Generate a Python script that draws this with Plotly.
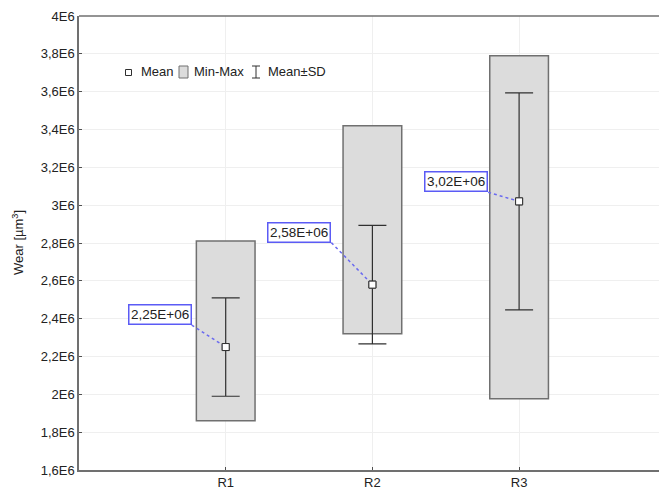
import plotly.graph_objects as go

categories = ["R1", "R2", "R3"]
means = [2.25e6, 2.58e6, 3.02e6]
sds = [0.26e6, 0.313e6, 0.574e6]
mins = [1.86e6, 2.32e6, 1.976e6]
maxs = [2.81e6, 3.42e6, 3.79e6]
ytick_vals = [1.6e6, 1.8e6, 2.0e6, 2.2e6, 2.4e6, 2.6e6, 2.8e6, 3.0e6, 3.2e6, 3.4e6, 3.6e6, 3.8e6, 4.0e6]
ytick_text = ["1,6E6", "1,8E6", "2E6", "2,2E6", "2,4E6", "2,6E6", "2,8E6", "3E6", "3,2E6", "3,4E6", "3,6E6", "3,8E6", "4E6"]

# label offsets (layout only): x in category units, y in data units
label_dx = [-0.232, -0.28, -0.211]
label_dy = [0.116e6, 0.222e6, 0.048e6]

W, H = 659, 495
L, T, B, R = 79, 16, 25, 0
pw, ph = W - L - R, H - T - B

def px(x):  # pixel -> paper x
    return (x - L) / pw

def py(y):  # pixel -> paper y
    return 1 - (y - T) / ph

xs = [1, 2, 3]
fig = go.Figure()
fig.add_trace(go.Bar(
    x=xs, y=[mx - mn for mn, mx in zip(mins, maxs)], base=mins, width=0.4,
    marker=dict(color="#dcdcdc", line=dict(color="#707070", width=1.5)),
    showlegend=False, hoverinfo="skip"))
fig.add_trace(go.Scatter(
    x=xs, y=means, mode="markers",
    marker=dict(symbol="square", size=7, color="white", line=dict(color="#303030", width=1)),
    error_y=dict(type="data", array=sds, color="#303030", thickness=1.2, width=14),
    showlegend=False))

anns = []
for i, (xv, m) in enumerate(zip(xs, means)):
    sx, sy = xv + label_dx[i], m + label_dy[i]
    fig.add_trace(go.Scatter(x=[sx, xv], y=[sy, m], mode="lines",
                             line=dict(color="#6a6af0", width=1.5, dash="dot"),
                             showlegend=False, hoverinfo="skip"))
    anns.append(dict(x=sx, y=sy, xref="x", yref="y", xanchor="right", yanchor="bottom",
                     text=f"{m:.2E}".replace(".", ","), showarrow=False,
                     font=dict(size=13.5, color="#222"), bgcolor="white",
                     bordercolor="#5b5bf5", borderwidth=1.5, borderpad=1.5))
fig.add_trace(go.Scatter(
    x=xs, y=means, mode="markers",
    marker=dict(symbol="square", size=7, color="white", line=dict(color="#303030", width=1)),
    showlegend=False, hoverinfo="skip"))

shapes = []
shapes.append(dict(type="line", xref="paper", yref="paper", x0=0, x1=1, y0=1, y1=1,
                   line=dict(color="#707070", width=1.5)))
# custom legend
shapes.append(dict(type="rect", xref="paper", yref="paper", x0=px(125.5), x1=px(131.5),
                   y0=py(75.5), y1=py(69.5), line=dict(color="#303030", width=1), fillcolor="white"))
shapes.append(dict(type="rect", xref="paper", yref="paper", x0=px(179), x1=px(188),
                   y0=py(78), y1=py(66), line=dict(color="#707070", width=1), fillcolor="#dcdcdc"))
for seg in [(256, 66, 256, 78), (252, 66, 260, 66), (252, 78, 260, 78)]:
    shapes.append(dict(type="line", xref="paper", yref="paper", x0=px(seg[0]), x1=px(seg[2]),
                       y0=py(seg[1]), y1=py(seg[3]), line=dict(color="#303030", width=1)))
for tx, txt in [(139, "Mean"), (192, "Min-Max"), (266, "Mean±SD")]:
    anns.append(dict(x=px(tx), y=py(72), xref="paper", yref="paper", xanchor="left", yanchor="middle",
                     text=txt, showarrow=False, font=dict(size=13, color="#222")))
anns.append(dict(x=px(18), y=py(243), xref="paper", yref="paper", xanchor="center", yanchor="middle",
                 text="Wear [µm<sup>3</sup>]", textangle=-90, showarrow=False,
                 font=dict(size=13, color="#222")))

fig.update_layout(
    width=W, height=H, margin=dict(l=L, r=R, t=T, b=B, autoexpand=False),
    paper_bgcolor="white", plot_bgcolor="white",
    font=dict(family="Liberation Sans, Arial, sans-serif", size=13, color="#222"),
    shapes=shapes, annotations=anns, showlegend=False,
    xaxis=dict(range=[0, (W - L - R) / 146.7], tickvals=xs, ticktext=categories,
               showgrid=True, gridcolor="#efefef", gridwidth=1, zeroline=False,
               showline=True, linecolor="#707070", linewidth=1.5, automargin=False,
               ticks="inside", ticklen=3, tickcolor="#505050", tickfont=dict(size=13)),
    yaxis=dict(range=[1.6e6, 4.0e6], tickvals=ytick_vals, ticktext=ytick_text,
               showgrid=True, gridcolor="#efefef", gridwidth=1, zeroline=False,
               showline=True, linecolor="#707070", linewidth=1.5, automargin=False,
               ticks="inside", ticklen=3, tickcolor="#505050", tickfont=dict(size=13)),
)
fig.write_html("out.html", config={"displayModeBar": False},
               post_script="document.body.style.margin='0';document.body.style.overflow='hidden';")
